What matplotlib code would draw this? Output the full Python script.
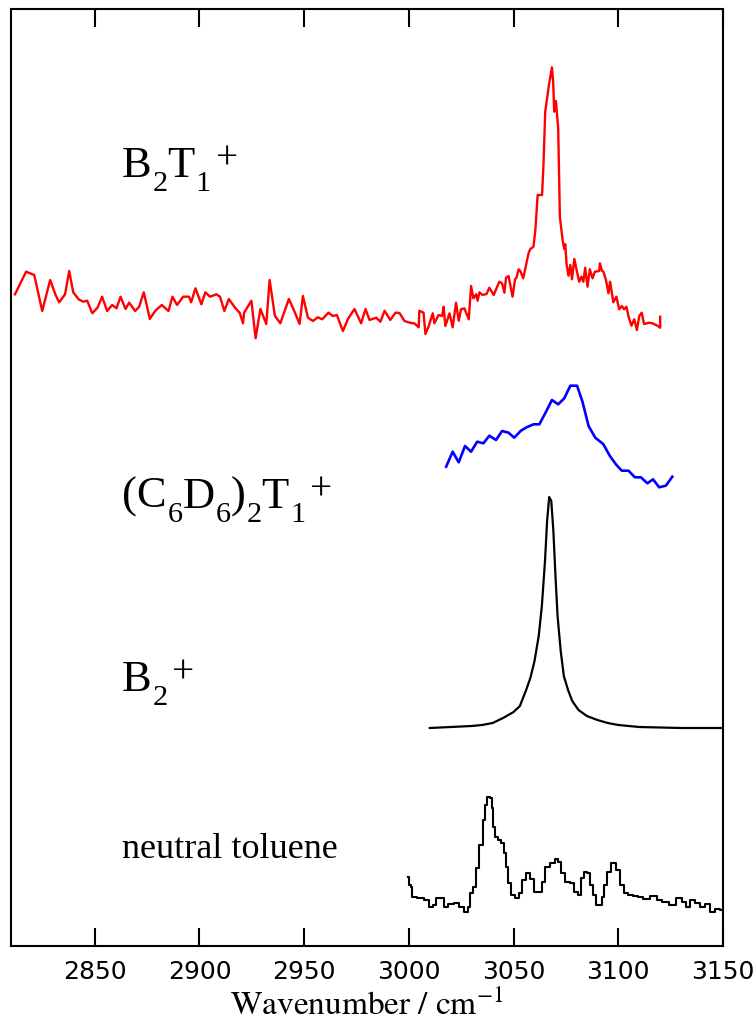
import matplotlib
matplotlib.use("Agg")
import matplotlib.pyplot as plt
from matplotlib.transforms import offset_copy

plt.rcParams['mathtext.fontset'] = 'stix'
plt.rcParams['font.family'] = ['DejaVu Sans']

# ---- data (wavenumber / cm-1, intensity in arbitrary offset units) ----
red_x = [2811.9, 2817.2, 2821.1, 2824.9, 2828.7, 2831.3, 2833.0, 2835.8, 2837.8, 2839.7,
         2842.3, 2844.5, 2846.4, 2848.8, 2851.3, 2853.5, 2855.9, 2858.3, 2860.4, 2862.3,
         2864.7, 2866.4, 2869.3, 2871.2, 2873.4, 2876.3, 2878.8, 2882.0, 2885.2, 2887.1,
         2889.3, 2892.2, 2895.0, 2896.0, 2898.1, 2900.9, 2902.8, 2905.0, 2908.1, 2909.8,
         2911.9, 2914.0, 2917.2, 2919.2, 2920.8, 2921.3, 2924.8, 2926.8, 2929.1, 2931.9,
         2933.5, 2936.0, 2938.6, 2942.7, 2945.4, 2947.8, 2949.4, 2951.8, 2954.2, 2956.5,
         2958.6, 2961.6, 2963.7, 2965.6, 2968.5, 2970.9, 2974.0, 2977.2, 2979.3, 2981.2,
         2984.4, 2986.4, 2988.4, 2991.1, 2993.6, 2995.5, 2997.9, 3000.4, 3002.7, 3004.7,
         3005.0, 3007.0, 3007.9, 3009.5, 3011.4, 3012.2, 3014.2, 3015.9, 3016.6, 3017.4,
         3019.4, 3020.9, 3022.5, 3023.8, 3024.9, 3026.5, 3028.6, 3029.7, 3030.8, 3032.1,
         3032.8, 3033.7, 3035.2, 3037.1, 3038.4, 3040.5, 3043.2, 3044.5, 3045.6, 3046.4,
         3047.6, 3049.5, 3050.7, 3051.4, 3052.4, 3053.2, 3054.6, 3057.2, 3058.0, 3059.5,
         3060.4, 3061.5, 3063.6, 3064.3, 3065.1, 3067.0, 3068.3, 3068.9, 3069.4, 3070.2,
         3071.3, 3072.1, 3073.4, 3074.2, 3074.7, 3075.3, 3076.2, 3077.1, 3077.9, 3079.0,
         3081.3, 3082.4, 3083.3, 3084.2, 3085.3, 3086.4, 3087.7, 3088.8, 3090.9, 3091.2,
         3092.2, 3092.9, 3094.1, 3095.3, 3096.1, 3097.6, 3099.1, 3100.4, 3101.7, 3102.8,
         3103.9, 3104.9, 3106.3, 3107.6, 3108.9, 3110.0, 3111.2, 3112.3, 3114.7, 3116.3,
         3118.7, 3120.0, 3120.0]
red_y = [651.7, 674.3, 671.0, 635.0, 666.0, 651.0, 643.7, 651.7, 675.0, 653.7,
         646.7, 644.3, 645.3, 632.7, 638.3, 649.3, 635.0, 641.0, 637.7, 649.3,
         637.0, 643.3, 635.0, 639.3, 653.7, 627.0, 635.0, 641.0, 635.0, 649.3,
         641.0, 649.3, 649.3, 643.7, 657.7, 641.7, 653.7, 649.3, 651.7, 649.3,
         635.0, 647.0, 637.7, 633.3, 622.7, 633.3, 645.3, 607.7, 637.0, 622.0,
         666.0, 630.3, 622.7, 647.0, 634.3, 622.0, 650.0, 628.3, 625.0, 628.7,
         626.7, 633.3, 630.0, 631.0, 615.0, 627.0, 637.0, 622.7, 637.0, 626.0,
         628.3, 624.3, 635.3, 626.0, 633.3, 633.0, 625.0, 623.3, 622.5, 618.7,
         635.3, 633.3, 612.0, 620.0, 632.7, 622.7, 631.0, 630.0, 639.3, 620.0,
         632.7, 618.7, 643.3, 625.3, 636.7, 637.7, 626.7, 660.0, 647.7, 651.7,
         645.3, 653.7, 651.0, 652.0, 658.3, 651.0, 664.3, 662.7, 653.3, 668.3,
         670.0, 649.3, 666.7, 668.3, 676.7, 675.0, 667.7, 693.3, 697.0, 699.3,
         716.0, 751.0, 751.0, 782.7, 834.3, 862.7, 878.7, 864.3, 834.3, 845.0,
         817.7, 729.3, 706.0, 697.0, 701.7, 681.7, 670.3, 681.0, 666.7, 687.0,
         664.3, 669.3, 664.3, 678.3, 659.3, 676.7, 667.7, 674.3, 675.0, 682.7,
         675.3, 674.3, 666.0, 652.7, 664.3, 643.7, 649.3, 636.7, 640.0, 636.7,
         639.3, 629.3, 620.3, 626.7, 616.0, 630.0, 633.3, 622.0, 623.3, 622.7,
         620.3, 618.3, 629.3]

blue_x = [3017.8, 3020.9, 3023.8, 3026.8, 3029.7, 3032.6, 3035.6, 3038.4, 3041.6, 3044.5,
          3047.6, 3050.3, 3053.5, 3056.2, 3059.6, 3062.3, 3065.5, 3068.3, 3071.3, 3074.2,
          3077.1, 3080.3, 3082.9, 3085.8, 3089.0, 3092.8, 3096.0, 3099.1, 3101.7, 3104.9,
          3107.9, 3110.8, 3113.9, 3116.6, 3119.5, 3122.7, 3125.8]
blue_y = [479.3, 494.3, 483.7, 500.0, 494.3, 504.3, 502.7, 510.3, 506.0, 515.0,
          513.3, 508.3, 515.3, 518.7, 521.7, 521.7, 534.3, 546.0, 541.7, 547.7,
          560.3, 560.3, 544.3, 520.0, 508.3, 502.0, 490.0, 481.0, 475.3, 475.3,
          468.7, 468.7, 462.7, 466.7, 458.7, 460.3, 469.3]

b2_x = [3010, 3015, 3020, 3025, 3030, 3035, 3040, 3045, 3050, 3053, 3056, 3058, 3060,
        3062, 3063.5, 3065, 3066, 3067, 3068, 3069, 3070, 3071, 3072.5, 3074, 3076,
        3078, 3081, 3085, 3090, 3095, 3100, 3110, 3120, 3130, 3140, 3150]
b2_y = [218, 218.5, 219, 219.5, 220, 221, 223, 228, 234, 240, 256, 268, 285,
        310, 340, 385, 425, 449, 445, 415, 370, 330, 295, 270, 256,
        245, 236, 230, 226, 223, 221, 219, 218.5, 218, 218, 218]

tol_x = [2999.8, 3000.3, 3001.4, 3001.9, 3005.9, 3009.0, 3010.6, 3012.2, 3013.8, 3015.9,
         3017.8, 3019.4, 3023.3, 3024.9, 3027.3, 3028.9, 3029.7, 3031.3, 3032.9, 3034.5,
         3036.0, 3036.9, 3038.1, 3039.2, 3040.0, 3040.8, 3041.9, 3043.2, 3044.8, 3046.1,
         3046.7, 3048.0, 3049.1, 3051.9, 3053.5, 3054.8, 3057.2, 3058.8, 3060.4, 3063.1,
         3064.2, 3066.2, 3068.6, 3070.5, 3071.8, 3073.4, 3075.8, 3077.9, 3079.8, 3081.3,
         3082.9, 3084.2, 3085.8, 3086.9, 3088.5, 3090.1, 3091.7, 3092.5, 3094.1, 3095.3,
         3098.0, 3099.6, 3101.7, 3103.6, 3106.0, 3108.4, 3110.0, 3113.2, 3117.1, 3119.5,
         3122.7, 3125.8, 3129.0, 3131.4, 3133.0, 3135.4, 3137.8, 3140.2, 3142.5, 3144.9,
         3147.3, 3150.0]
tol_y = [69.3, 61.0, 59.3, 49.3, 47.7, 46.0, 38.7, 41.0, 48.3, 47.7,
         38.7, 42.0, 43.3, 39.3, 34.3, 39.3, 52.7, 59.3, 77.7, 101.0,
         126.0, 141.0, 149.3, 147.7, 137.7, 119.3, 109.3, 106.0, 102.7, 92.7,
         79.3, 62.7, 51.0, 47.7, 52.7, 66.0, 72.7, 66.7, 54.3, 54.3,
         64.3, 79.3, 82.7, 86.7, 84.3, 72.7, 64.3, 62.7, 54.3, 51.0,
         67.7, 74.3, 72.7, 61.0, 51.0, 41.0, 41.0, 49.3, 61.0, 74.3,
         82.7, 76.0, 61.0, 52.7, 51.0, 50.0, 48.7, 46.7, 50.0, 46.0,
         44.3, 41.0, 47.7, 44.3, 38.7, 46.0, 42.7, 39.3, 42.0, 34.3,
         36.7, 36.0]

# label pieces: (text, kind) with kind n=normal, b=subscript, p=superscript
label_pieces = [
    [('B', 'n'), ('2', 'b'), ('T', 'n'), ('1', 'b'), ('+', 'p')],
    [('(C', 'n'), ('6', 'b'), ('D', 'n'), ('6', 'b'), (')', 'n'), ('2', 'b'),
     ('T', 'n'), ('1', 'b'), ('+', 'p')],
    [('B', 'n'), ('2', 'b'), ('+', 'p')],
]
label_y = [769, 438, 255]
toluene_label = 'neutral toluene'
toluene_y = 88
label_x = 2862.8
xticks = [2850, 2900, 2950, 3000, 3050, 3100, 3150]

# ---- figure ----
fig = plt.figure(figsize=(7.56, 10.22), dpi=100)
ax = fig.add_axes([11/756, 1 - 946/1022, 712/756, 936.5/1022])

ax.plot(red_x, red_y, color='#ff0000', lw=1.7)
ax.plot(blue_x, blue_y, color='#0000ff', lw=1.9)
ax.plot(b2_x, b2_y, color='black', lw=1.6)
ax.plot(tol_x, tol_y, color='black', lw=1.5, drawstyle='steps-mid')

ax.set_xlim(2810, 3150)
ax.set_ylim(0, 936.5)
ax.set_xticks(xticks)
ax.set_yticks([])
ax.tick_params(axis='x', direction='in', length=13, width=1.5, top=True,
               labelsize=18, pad=10)
for s in ax.spines.values():
    s.set_linewidth(1.5)

renderer = fig.canvas.get_renderer()
MAIN = 32
style = {'n': (MAIN, 0.0, 0.0),          # size, dy (pt), gap before (pt)
         'b': (MAIN * 0.68, -10.0, 0.8),
         'p': (MAIN * 0.88, 6.0, 3.5)}
for pieces, yv in zip(label_pieces, label_y):
    dx = 0.0
    for txt, kind in pieces:
        size, dy, gap = style[kind]
        dx += gap
        tr = offset_copy(ax.transData, fig=fig, x=dx, y=dy, units='points')
        t = ax.text(label_x, yv, txt, transform=tr, fontsize=size,
                    family='Liberation Serif', va='baseline', ha='left')
        w = t.get_window_extent(renderer).width * 72.0 / fig.dpi
        dx += w

ax.text(label_x, toluene_y, toluene_label, fontsize=26, va='baseline', ha='left',
        family='Liberation Serif')

ax.set_xlabel(r'$\mathrm{Wavenumber\ /\ cm^{-1}}$', fontsize=24, labelpad=4)

fig.savefig('out.png', dpi=100)
